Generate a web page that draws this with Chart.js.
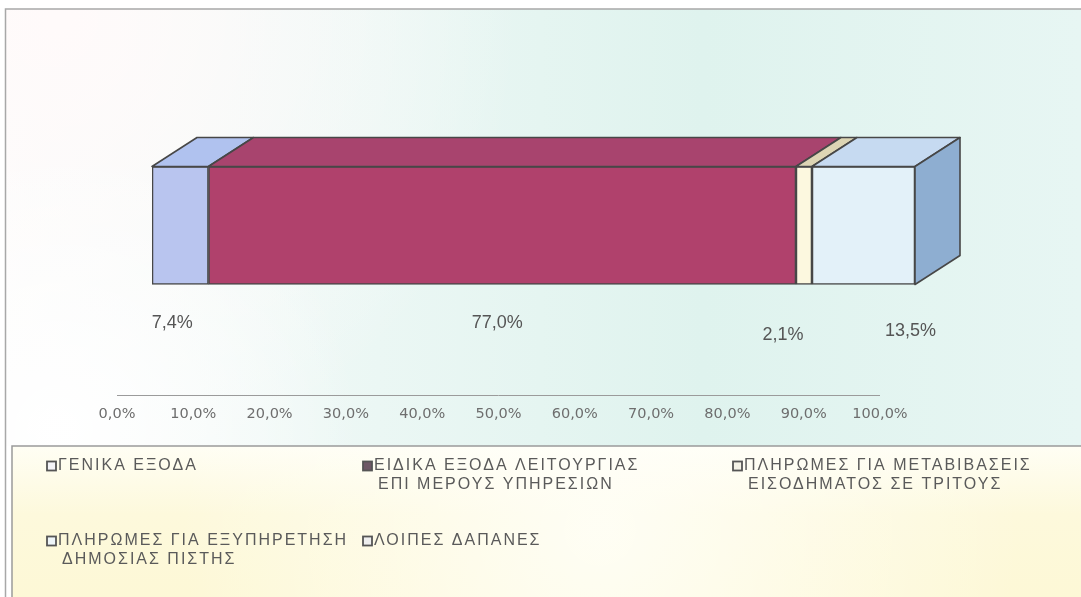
<!DOCTYPE html>
<html><head><meta charset="utf-8">
<script src="https://cdn.jsdelivr.net/npm/chart.js@4.4.1/dist/chart.umd.min.js"></script>
<style>html,body{margin:0;padding:0;background:#fff;overflow:hidden}#wrap{width:1081px;height:597px;position:relative}canvas{display:block}</style>
</head><body><div id="wrap"><canvas id="c" width="1081" height="597"></canvas></div>
<script>
// ---- data ----
const categories = [''];
const legendLines = [
  ['ΓΕΝΙΚΑ ΕΞΟΔΑ'],
  ['ΕΙΔΙΚΑ ΕΞΟΔΑ ΛΕΙΤΟΥΡΓΙΑΣ', 'ΕΠΙ ΜΕΡΟΥΣ ΥΠΗΡΕΣΙΩΝ'],
  ['ΠΛΗΡΩΜΕΣ ΓΙΑ ΜΕΤΑΒΙΒΑΣΕΙΣ', 'ΕΙΣΟΔΗΜΑΤΟΣ ΣΕ ΤΡΙΤΟΥΣ'],
  ['ΠΛΗΡΩΜΕΣ ΓΙΑ ΕΞΥΠΗΡΕΤΗΣΗ', 'ΔΗΜΟΣΙΑΣ ΠΙΣΤΗΣ'],
  ['ΛΟΙΠΕΣ ΔΑΠΑΝΕΣ']
];
const generalExpenses = [7.4];
const specialExpenses = [77.0];
const transferPayments = [2.1];
const debtServicePayments = [13.5];
const otherExpenses = [0];
const tickValues = [0, 10, 20, 30, 40, 50, 60, 70, 80, 90, 100];
const tickLabels = ['0,0%', '10,0%', '20,0%', '30,0%', '40,0%', '50,0%', '60,0%', '70,0%', '80,0%', '90,0%', '100,0%'];
const valueLabels = ['7,4%', '77,0%', '2,1%', '13,5%', ''];

// ---- styles ----
const frontColors = ['#b9c5ef', '#b0416c', '#fcf8df', '#e3f1f9', '#d8d8d8'];
const topColors   = ['#b0c2ef', '#a8446e', '#ddd5b4', '#c6daf1', '#cccccc'];
const sideColor   = '#8eaed1';
const legendFill  = ['#f4f4f8', '#6e5866', '#f4f2e6', '#eef5f8', '#eeeeee'];
const depth = { dx: 45, dy: -29 };
const labelOffsets = [[-8, 98], [-5, 98], [-21, 110], [47, 106], [0, 0]];

const seriesValues = [generalExpenses, specialExpenses, transferPayments, debtServicePayments, otherExpenses];

const bgPlugin = {
  id: 'bg',
  beforeDraw(chart) {
    const ctx = chart.ctx, W = chart.width, H = chart.height;
    ctx.save();
    ctx.fillStyle = '#ffffff'; ctx.fillRect(0, 0, W, H);
    let g = ctx.createLinearGradient(0, 0, W, 0);
    g.addColorStop(0, '#fbfcfb'); g.addColorStop(0.35, '#ebf7f4'); g.addColorStop(0.65, '#dff3ee'); g.addColorStop(1, '#e7f6f3');
    ctx.fillStyle = g; ctx.fillRect(6, 9, W - 6, 437);
    let r = ctx.createRadialGradient(60, 20, 10, 60, 20, 460);
    r.addColorStop(0, 'rgba(255,250,250,1)'); r.addColorStop(1, 'rgba(255,252,252,0)');
    ctx.fillStyle = r; ctx.fillRect(6, 9, W - 6, 437);
    r = ctx.createRadialGradient(60, 430, 10, 60, 430, 300);
    r.addColorStop(0, 'rgba(255,255,255,0.95)'); r.addColorStop(1, 'rgba(255,255,255,0)');
    ctx.fillStyle = r; ctx.fillRect(6, 9, W - 6, 437);
    g = ctx.createLinearGradient(0, 446, 0, H);
    g.addColorStop(0, '#fffef4'); g.addColorStop(0.45, '#fdf9dc'); g.addColorStop(1, '#fdf8d6');
    ctx.fillStyle = g; ctx.fillRect(12, 446, W - 12, H - 446);
    r = ctx.createRadialGradient(600, 530, 10, 600, 530, 420);
    r.addColorStop(0, 'rgba(255,255,250,0.8)'); r.addColorStop(1, 'rgba(255,255,250,0)');
    ctx.fillStyle = r; ctx.fillRect(12, 446, W - 12, H - 446);
    ctx.strokeStyle = '#a8a8a8'; ctx.lineWidth = 1.5;
    ctx.beginPath(); ctx.moveTo(5.5, H); ctx.lineTo(5.5, 9); ctx.lineTo(W, 9); ctx.stroke();
    ctx.strokeStyle = '#9a9a9a';
    ctx.beginPath(); ctx.moveTo(12, H); ctx.lineTo(12, 446); ctx.lineTo(W, 446); ctx.stroke();
    ctx.restore();
  },
  beforeDatasetsDraw(chart) {
    const ctx = chart.ctx, xs = chart.scales.x, a = chart.chartArea;
    ctx.save();
    ctx.strokeStyle = '#9b9b9b'; ctx.lineWidth = 1;
    ctx.beginPath();
    ctx.moveTo(xs.getPixelForValue(0) - 35, a.bottom + 0.5);
    ctx.lineTo(xs.getPixelForValue(100) - 35, a.bottom + 0.5);
    ctx.stroke();
    ctx.restore();
  }
};

const threeDPlugin = {
  id: 'threeD',
  afterDatasetsDraw(chart) {
    const ctx = chart.ctx;
    let last = -1;
    chart.data.datasets.forEach((d, i) => { if (d.data[0] > 0) last = i; });
    chart.data.datasets.forEach((d, i) => {
      if (!(d.data[0] > 0)) return;
      const el = chart.getDatasetMeta(i).data[0];
      const p = el.getProps(['x', 'base', 'y', 'height'], true);
      const L = Math.min(p.x, p.base), R = Math.max(p.x, p.base);
      const T = p.y - p.height / 2, B = p.y + p.height / 2;
      ctx.save();
      ctx.lineJoin = 'round'; ctx.strokeStyle = '#474747'; ctx.lineWidth = 1.6;
      ctx.beginPath();
      ctx.moveTo(L, T); ctx.lineTo(L + depth.dx, T + depth.dy); ctx.lineTo(R + depth.dx, T + depth.dy); ctx.lineTo(R, T); ctx.closePath();
      ctx.fillStyle = topColors[i]; ctx.fill(); ctx.stroke();
      if (i === last) {
        ctx.beginPath();
        ctx.moveTo(R, T); ctx.lineTo(R + depth.dx, T + depth.dy); ctx.lineTo(R + depth.dx, B + depth.dy); ctx.lineTo(R, B); ctx.closePath();
        ctx.fillStyle = sideColor; ctx.fill(); ctx.stroke();
      }
      const t = valueLabels[i];
      if (t) {
        ctx.font = '18px "Liberation Sans", Arial, sans-serif';
        ctx.fillStyle = '#555555'; ctx.textAlign = 'center'; ctx.textBaseline = 'middle';
        ctx.fillText(t, (L + R) / 2 + labelOffsets[i][0], p.y + labelOffsets[i][1]);
      }
      ctx.restore();
    });
  }
};

const legendPlugin = {
  id: 'customLegend',
  afterDraw(chart) {
    const ctx = chart.ctx;
    const cols = [47, 363, 733], rows = [466, 541], lh = 19;
    ctx.save();
    ctx.font = '16px "Liberation Sans", Arial, sans-serif';
    ctx.letterSpacing = '2px';
    ctx.textBaseline = 'middle'; ctx.textAlign = 'left';
    chart.data.datasets.forEach((d, i) => {
      const cx = cols[i % 3], cy = rows[Math.floor(i / 3)];
      ctx.fillStyle = legendFill[i];
      ctx.fillRect(cx, cy - 4.5, 9, 9);
      ctx.strokeStyle = '#555555'; ctx.lineWidth = 1.8;
      ctx.strokeRect(cx, cy - 4.5, 9, 9);
      ctx.fillStyle = '#5a5a5a';
      legendLines[i].forEach((line, k) => {
        ctx.fillText(line, cx + 11 + (k ? 4 : 0), cy + k * lh);
      });
    });
    ctx.restore();
  }
};

new Chart(document.getElementById('c'), {
  type: 'bar',
  data: {
    labels: categories,
    datasets: seriesValues.map((vals, i) => ({
      label: legendLines[i].join(' '),
      data: vals,
      backgroundColor: frontColors[i],
      borderColor: '#474747',
      borderWidth: (c) => (c.raw > 0 ? 1.6 : 0),
      borderSkipped: false,
      barThickness: 118
    }))
  },
  options: {
    indexAxis: 'y',
    responsive: false,
    animation: false,
    devicePixelRatio: 1,
    layout: { padding: { left: 152, right: 166, top: 56, bottom: 0 } },
    plugins: { legend: { display: false }, tooltip: { enabled: false } },
    scales: {
      x: {
        stacked: true, min: 0, max: 100,
        afterBuildTicks: (s) => { s.ticks = tickValues.map(v => ({ value: v })); },
        afterFit: (s) => { s.height = 202; },
        grid: { display: false, drawTicks: false },
        border: { display: false },
        ticks: {
          padding: 11,
          labelOffset: -35,
          color: '#6e6e6e',
          font: { family: '"DejaVu Sans", sans-serif', size: 14.5 },
          callback: (v) => tickLabels[tickValues.indexOf(v)] ?? ''
        }
      },
      y: { stacked: true, display: false }
    }
  },
  plugins: [bgPlugin, threeDPlugin, legendPlugin]
});
</script>
</body></html>
